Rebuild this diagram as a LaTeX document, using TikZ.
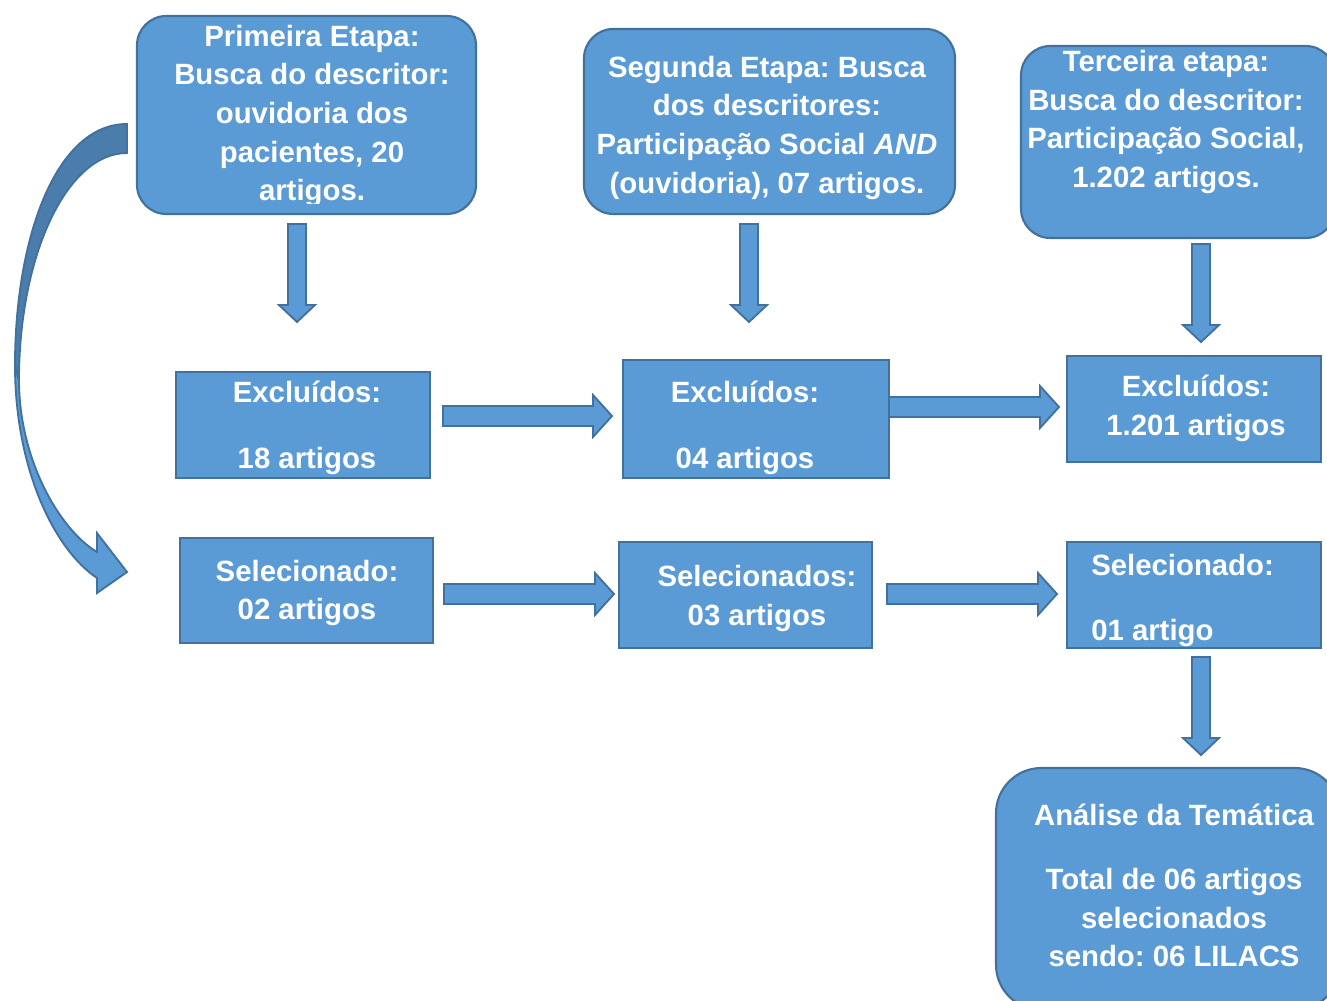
\documentclass[tikz,border=0pt]{standalone}
\usepackage{fontspec}
\setmainfont{Liberation Sans}
\usetikzlibrary{calc}
\definecolor{bfill}{HTML}{5B9BD5}
\definecolor{bline}{HTML}{41719C}
\definecolor{bdark}{HTML}{4A7DAB}
\tikzset{
 box/.style={draw=bline, line width=1.6pt, fill=bfill, inner sep=0pt},
 rbox/.style={box, rounded corners=22pt},
 txt/.style={text=white, font=\fontsize{22}{29}\selectfont\bfseries\frenchspacing, align=center, inner sep=0pt},
 barrow/.style={draw=bline, line width=1.4pt, fill=bfill, line join=miter},
}
\newcommand\harr[2]{%
 \draw[barrow] let \p1=(#1), \p2=(#2) in
 (\x1,\y1+7.5pt) -- (\x2-14.25pt,\y1+7.5pt) -- (\x2-14.25pt,\y1+15.75pt) -- (\x2,\y1)
 -- (\x2-14.25pt,\y1-15.75pt) -- (\x2-14.25pt,\y1-7.5pt) -- (\x1,\y1-7.5pt) -- cycle;}
\newcommand\varr[2]{%
 \draw[barrow] let \p1=(#1), \p2=(#2) in
 (\x1-6.75pt,\y1) -- (\x1-6.75pt,\y2+12.75pt) -- (\x1-13.5pt,\y2+12.75pt) -- (\x1,\y2)
 -- (\x1+13.5pt,\y2+12.75pt) -- (\x1+6.75pt,\y2+12.75pt) -- (\x1+6.75pt,\y1) -- cycle;}
\begin{document}
\frenchspacing
\begin{tikzpicture}[x=0.75pt,y=-0.75pt]
\useasboundingbox (0,0) rectangle (1327,1000);
\clip (0,0) rectangle (1327,1000);

% boxes
\node[rbox, minimum width=254.25pt, minimum height=148.5pt] (b1) at (306.5,115) {};
\node[rbox, minimum width=278.25pt, minimum height=138.75pt] (b2) at (769.5,121.5) {};
\node[rbox, minimum width=235.5pt, minimum height=144pt] (b3) at (1178,142) {};
\node[box, minimum width=190.5pt, minimum height=79.5pt] (e1) at (303,425) {};
\node[box, minimum width=199.5pt, minimum height=88.5pt] (e2) at (756,419) {};
\node[box, minimum width=190.5pt, minimum height=79.5pt] (e3) at (1194,409) {};
\node[box, minimum width=189.75pt, minimum height=78.75pt] (s1) at (306.5,590.5) {};
\node[box, minimum width=189.75pt, minimum height=79.5pt] (s2) at (745.5,595) {};
\node[box, minimum width=190.5pt, minimum height=79.5pt] (s3) at (1194,595) {};
\node[box, rounded corners=34pt, minimum width=258pt, minimum height=181.5pt] (f) at (1168,889) {};

% texts
\begin{scope}
\clip (137,16) rectangle (476,203);
\node[txt] (t1) at (312,116) {Primeira Etapa:\\Busca do descritor:\\ouvidoria dos\\pacientes, 20\\artigos.};
\end{scope}
\node[txt] (t2) at (767,127.5) {Segunda Etapa: Busca\\dos descritores:\\Participação Social \textit{AND}\\(ouvidoria), 07 artigos.};
\node[txt] (t3) at (1166,122) {Terceira etapa:\\Busca do descritor:\\Participação Social,\\1.202 artigos.};
\node[txt] (te1) at (307,428) {Excluídos:\\[20.5pt]18 artigos};
\node[txt] (te2) at (745,428) {Excluídos:\\[20.5pt]04 artigos};
\node[txt] (te3) at (1196,408.5) {Excluídos:\\1.201 artigos};
\node[txt] (ts1) at (307,593) {Selecionado:\\02 artigos};
\node[txt] (ts2) at (757,598.5) {Selecionados:\\03 artigos};
\node[txt, align=left, anchor=west] (ts3) at (1091,600.5) {Selecionado:\\[20pt]01 artigo};
\node[txt] (tf) at (1174,885.5) {Análise da Temática\\[19pt]Total de 06 artigos\\selecionados\\sendo: 06 LILACS};

% block arrows
\coordinate (d1s) at (297,224); \coordinate (d1e) at (297,322);
\coordinate (d2s) at (749,224); \coordinate (d2e) at (749,322);
\coordinate (d3s) at (1201,244); \coordinate (d3e) at (1201,342);
\coordinate (d4s) at (1201,657); \coordinate (d4e) at (1201,755);
\coordinate (h1s) at (443,416); \coordinate (h1e) at (612,416);
\coordinate (h2s) at (889,407); \coordinate (h2e) at (1059,407);
\coordinate (h3s) at (444,594); \coordinate (h3e) at (614,594);
\coordinate (h4s) at (887,594); \coordinate (h4e) at (1057,594);
\varr{d1s}{d1e}
\varr{d2s}{d2e}
\varr{d3s}{d3e}
\varr{d4s}{d4e}
\harr{h1s}{h1e}
\harr{h2s}{h2e}
\harr{h3s}{h3e}
\harr{h4s}{h4e}

% curved arrow
\draw[barrow, line join=miter] (15,365) .. controls (15,470) and (55,550) .. (97,578) -- (97,593) -- (127,572) -- (97,533) -- (97,552) .. controls (60,530) and (19,460) .. (19,380) -- cycle;
\draw[barrow, fill=bdark] (127,124) .. controls (55,124) and (15,240) .. (15,365) -- (19,380) .. controls (19,255) and (67,153) .. (127,153) -- cycle;
\end{tikzpicture}
\end{document}
